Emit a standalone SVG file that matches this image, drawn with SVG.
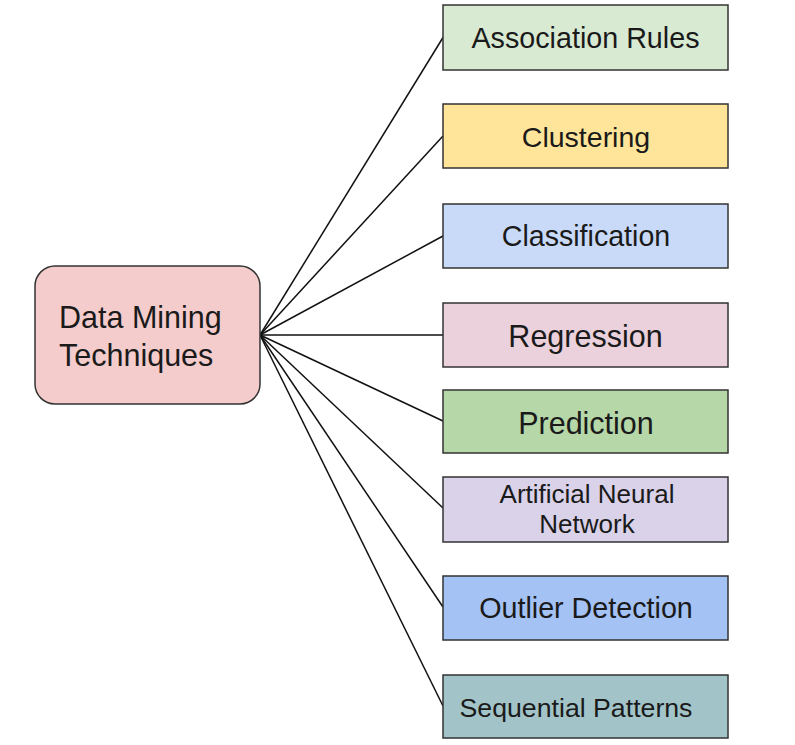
<svg xmlns="http://www.w3.org/2000/svg" width="795" height="745" viewBox="0 0 795 745">
<style>
.box{stroke:#333333;stroke-width:1.5}
.t{font-family:"Liberation Sans",Arial,sans-serif;fill:#1a1a1a;text-anchor:middle}
.conn line{stroke:#111111;stroke-width:1.5}
</style>
<rect width="795" height="745" fill="#ffffff"/>
<g id="connectors" class="conn">
<line x1="260" y1="335" x2="443" y2="37.5"/>
<line x1="260" y1="335" x2="443" y2="136"/>
<line x1="260" y1="335" x2="443" y2="236"/>
<line x1="260" y1="335" x2="443" y2="335"/>
<line x1="260" y1="335" x2="443" y2="421"/>
<line x1="260" y1="335" x2="443" y2="508"/>
<line x1="260" y1="335" x2="443" y2="607"/>
<line x1="260" y1="335" x2="443" y2="706"/>
</g>
<g id="data-mining">
<rect class="box" x="35" y="266" width="225" height="138" rx="20" fill="#f4cccc"/>
<text class="t" x="59" y="328" font-size="30.5" text-anchor="start" style="text-anchor:start">Data Mining</text>
<text class="t" x="59" y="366" font-size="30.5" style="text-anchor:start">Techniques</text>
</g>
<g id="association-rules">
<rect class="box" x="443" y="5" width="285" height="65" fill="#d9ead3"/>
<text class="t" x="585.5" y="47.5" font-size="28.7">Association Rules</text>
</g>
<g id="clustering">
<rect class="box" x="443" y="104" width="285" height="64" fill="#ffe599"/>
<text class="t" x="586" y="146.5" font-size="28.5">Clustering</text>
</g>
<g id="classification">
<rect class="box" x="443" y="204" width="285" height="64" fill="#c9daf8"/>
<text class="t" x="586" y="245.5" font-size="28.6">Classification</text>
</g>
<g id="regression">
<rect class="box" x="443" y="303" width="285" height="64" fill="#ead1dc"/>
<text class="t" x="585.5" y="346.5" font-size="30.5">Regression</text>
</g>
<g id="prediction">
<rect class="box" x="443" y="390" width="285" height="63" fill="#b6d7a8"/>
<text class="t" x="586" y="434" font-size="30.5">Prediction</text>
</g>
<g id="artificial-neural-network">
<rect class="box" x="443" y="477" width="285" height="65" fill="#d9d2e9"/>
<text class="t" x="587" y="503" font-size="26">Artificial Neural</text>
<text class="t" x="587" y="533" font-size="26">Network</text>
</g>
<g id="outlier-detection">
<rect class="box" x="443" y="576" width="285" height="64" fill="#a4c2f4"/>
<text class="t" x="586" y="618" font-size="28.7">Outlier Detection</text>
</g>
<g id="sequential-patterns">
<rect class="box" x="443" y="675" width="285" height="63" fill="#a2c4c9"/>
<text class="t" x="576" y="716.5" font-size="26.7">Sequential Patterns</text>
</g>
</svg>
